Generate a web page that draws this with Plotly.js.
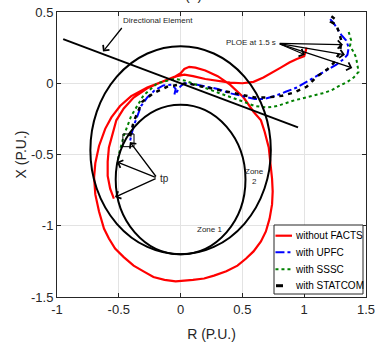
<!DOCTYPE html>
<html>
<head>
<meta charset="utf-8">
<script src="https://cdn.plot.ly/plotly-3.0.1.min.js"></script>
<style>
  html, body { margin: 0; padding: 0; background: #fff; }
  #chart { width: 376px; height: 345px; }
</style>
</head>
<body>
<div id="chart"></div>
<script>
// Apparent impedance trajectories seen by the relay (R, X in per unit)
const seriesNames = ['without FACTS', 'with UPFC', 'with SSSC', 'with STATCOM'];

const noFactsR = [1.02, 1.0, 0.94, 0.88, 0.81, 0.75, 0.67, 0.59, 0.5, 0.4,
  0.3, 0.2, 0.1, 0.03, -0.03, -0.12, -0.27, -0.4, -0.49, -0.56,
  -0.61, -0.66, -0.69, -0.7, -0.69, -0.66, -0.62, -0.58, -0.53, -0.46,
  -0.38, -0.3, -0.22, -0.13, -0.04, 0.1, 0.19, 0.27, 0.37, 0.46,
  0.53, 0.59, 0.65, 0.69, 0.72, 0.74, 0.745, 0.74, 0.713, 0.68,
  0.65, 0.59, 0.51, 0.4, 0.3, 0.2, 0.12, 0.07, 0.03, 0.0,
  -0.05, -0.15, -0.27, -0.38, -0.46, -0.52, -0.55, -0.58, -0.59, -0.59,
  -0.57, -0.54];
const noFactsX = [0.25, 0.19, 0.17, 0.145, 0.11, 0.08, 0.04, 0.01, 0.0, 0.005,
  0.015, 0.03, 0.05, 0.06, 0.05, 0.02, -0.03, -0.09, -0.16, -0.24,
  -0.32, -0.44, -0.56, -0.66, -0.78, -0.9, -1.02, -1.09, -1.16, -1.22,
  -1.28, -1.32, -1.36, -1.38, -1.39, -1.38, -1.37, -1.35, -1.32, -1.28,
  -1.23, -1.18, -1.11, -1.04, -0.95, -0.85, -0.76, -0.67, -0.45, -0.34,
  -0.26, -0.2, -0.1, -0.01, 0.05, 0.09, 0.11, 0.115, 0.1, 0.07,
  0.045, 0.01, -0.035, -0.1, -0.177, -0.26, -0.35, -0.45, -0.55, -0.65,
  -0.74, -0.81];

const upfcR = [1.21, 1.24, 1.27, 1.3, 1.34, 1.36, 1.35, 1.32, 1.26, 1.18,
  1.1, 1.02, 0.94, 0.85, 0.76, 0.68, 0.6, 0.5, 0.4, 0.3,
  0.2, 0.1, 0.03, 0.0, -0.03, -0.05, -0.04, -0.07, -0.14, -0.21,
  -0.27, -0.32, -0.35, -0.38, -0.4, -0.41];
const upfcX = [0.45, 0.42, 0.38, 0.34, 0.3, 0.25, 0.2, 0.17, 0.13, 0.09,
  0.05, 0.01, -0.03, -0.06, -0.09, -0.11, -0.11, -0.09, -0.07, -0.04,
  -0.02, -0.005, 0.0, -0.02, -0.06, -0.08, -0.04, -0.01, -0.015, -0.05,
  -0.1, -0.16, -0.23, -0.3, -0.37, -0.41];

const ssscR = [1.36, 1.38, 1.37, 1.4, 1.42, 1.43, 1.44, 1.4, 1.35, 1.28,
  1.22, 1.15, 1.08, 1.0, 0.92, 0.85, 0.78, 0.7, 0.6, 0.51,
  0.42, 0.3, 0.19, 0.1, 0.03, -0.05, -0.19, -0.3, -0.4, -0.46,
  -0.5, -0.51];
const ssscX = [0.36, 0.3, 0.26, 0.22, 0.18, 0.13, 0.08, 0.04, 0.01, -0.02,
  -0.05, -0.07, -0.085, -0.1, -0.12, -0.14, -0.16, -0.17, -0.16, -0.13,
  -0.1, -0.065, -0.03, 0.0, 0.02, 0.03, 0.0, -0.085, -0.23, -0.37,
  -0.5, -0.56];

const statcomR = [1.22, 1.25, 1.22, 1.26, 1.28, 1.3, 1.29, 1.24, 1.19, 1.1,
  1.02, 0.91, 0.82, 0.7, 0.6, 0.46, 0.32, 0.18, 0.05, -0.11,
  -0.22, -0.31, -0.38, -0.41];
const statcomX = [0.47, 0.45, 0.43, 0.41, 0.36, 0.3, 0.22, 0.144, 0.1, 0.046,
  -0.025, -0.067, -0.088, -0.1, -0.1, -0.075, -0.045, -0.02, 0.0, -0.025,
  -0.07, -0.13, -0.27, -0.38];

// Mho relay zones: centre (R, X) and radius
const zoneNames = ['Zone 1', 'Zone 2'];
const zoneCenterR = [0, 0];
const zoneCenterX = [-0.675, -0.47];
const zoneRadius = [0.525, 0.73];

// Directional element characteristic
const dirR = [-0.95, 0.95];
const dirX = [0.31, -0.31];

// Points marked on the plot
const ploeTipR = [1.006, 1.314, 1.33, 1.389];
const ploeTipX = [0.2, 0.271, 0.2, 0.107];
const tpTipR = [-0.41, -0.515, -0.531];
const tpTipX = [-0.412, -0.553, -0.799];
const tpBoxR = [-0.467, -0.377];
const tpBoxX = [-0.445, -0.356];

const xTicks = [-1, -0.5, 0, 0.5, 1, 1.5];
const yTicks = [-1.5, -1, -0.5, 0, 0.5];

const FONT = 'Liberation Sans, Arial, Helvetica, sans-serif';
const INK = '#262626';

const styles = [
  { color: '#ff0000', width: 2.2, dash: 'solid' },
  { color: '#0000ff', width: 2, dash: 'dashdot' },
  { color: '#008000', width: 2, dash: 'dot' },
  { color: '#000000', width: 2.5, dash: '4px,5px' }
];
const seriesR = [noFactsR, upfcR, ssscR, statcomR];
const seriesX = [noFactsX, upfcX, ssscX, statcomX];

const traces = seriesNames.map((name, i) => ({
  type: 'scatter', mode: 'lines', name: name,
  x: seriesR[i], y: seriesX[i],
  line: { color: styles[i].color, width: styles[i].width, dash: styles[i].dash },
  showlegend: false, hoverinfo: 'skip'
}));

traces.push({
  type: 'scatter', mode: 'lines', x: dirR, y: dirX,
  line: { color: '#000', width: 2 }, showlegend: false, hoverinfo: 'skip'
});

const shapes = zoneNames.map((z, i) => ({
  type: 'circle', xref: 'x', yref: 'y',
  x0: zoneCenterR[i] - zoneRadius[i], x1: zoneCenterR[i] + zoneRadius[i],
  y0: zoneCenterX[i] - zoneRadius[i], y1: zoneCenterX[i] + zoneRadius[i],
  line: { color: '#000', width: 2 }
}));
shapes.push({
  type: 'rect', xref: 'x', yref: 'y',
  x0: tpBoxR[0], x1: tpBoxR[1], y0: tpBoxX[0], y1: tpBoxX[1],
  line: { color: '#000', width: 1 }
});

// Legend drawn inside the axes, lower right
const legX0 = 0.7023, legX1 = 0.9903, legY0 = 0.0105, legY1 = 0.2526;
const legRows = [0.2151, 0.1568, 0.0972, 0.0396];
shapes.push({
  type: 'rect', xref: 'paper', yref: 'paper',
  x0: legX0, x1: legX1, y0: legY0, y1: legY1,
  fillcolor: '#fff', line: { color: INK, width: 1 }, layer: 'above'
});
seriesNames.forEach((n, i) => {
  const short = i === 3;
  shapes.push({
    type: 'line', xref: 'paper', yref: 'paper',
    x0: short ? 0.7087 : 0.707, x1: short ? 0.7314 : 0.7605,
    y0: legRows[i], y1: legRows[i],
    line: { color: styles[i].color, width: short ? 3 : styles[i].width,
            dash: short ? 'solid' : styles[i].dash }
  });
});

const annotations = [];
seriesNames.forEach((n, i) => {
  annotations.push({
    xref: 'paper', yref: 'paper', x: 0.763, y: legRows[i],
    xanchor: 'left', yanchor: 'middle', showarrow: false, text: n,
    font: { family: FONT, size: 10, color: '#000' }
  });
});

const arrowStyle = { showarrow: true, arrowhead: 4, arrowsize: 1.2, arrowwidth: 1.3,
  arrowcolor: '#000', text: '', xref: 'x', yref: 'y', axref: 'x', ayref: 'y', standoff: 0 };

annotations.push(Object.assign({}, arrowStyle, { x: -0.628, y: 0.222, ax: -0.466, ay: 0.398 }));
annotations.push({ xref: 'x', yref: 'y', x: -0.183, y: 0.44, showarrow: false,
  text: 'Directional Element', font: { family: FONT, size: 8, color: INK } });

ploeTipR.forEach((r, i) => {
  annotations.push(Object.assign({}, arrowStyle, { x: r, y: ploeTipX[i], ax: 0.79, ay: 0.28 }));
});
annotations.push({ xref: 'x', yref: 'y', x: 0.785, y: 0.283, xanchor: 'right', showarrow: false,
  text: 'PLOE at 1.5 s', font: { family: FONT, size: 8, color: INK } });

tpTipR.forEach((r, i) => {
  annotations.push(Object.assign({}, arrowStyle, { x: r, y: tpTipX[i], ax: -0.19, ay: -0.665 }));
});
annotations.push({ xref: 'x', yref: 'y', x: -0.185, y: -0.665, xanchor: 'left', showarrow: false,
  text: 'tp', font: { family: FONT, size: 10, color: INK } });

annotations.push({ xref: 'x', yref: 'y', x: 0.6, y: -0.651, showarrow: false,
  text: 'Zone<br>2', font: { family: FONT, size: 8, color: INK } });
annotations.push({ xref: 'x', yref: 'y', x: 0.23, y: -1.025, showarrow: false,
  text: 'Zone 1', font: { family: FONT, size: 8, color: INK } });

annotations.push({ xref: 'paper', yref: 'paper', x: 0.443, y: 1.026, yanchor: 'bottom',
  showarrow: false, text: '(a)', font: { family: FONT, size: 14, color: INK } });

const axisCommon = {
  showgrid: true, gridcolor: '#e3e3e3', gridwidth: 1, zeroline: false,
  showline: true, linecolor: INK, linewidth: 1, mirror: 'ticks',
  ticks: 'inside', ticklen: 4, tickcolor: INK,
  tickfont: { family: FONT, size: 13, color: INK }
};

const layout = {
  width: 376, height: 345,
  margin: { l: 57, r: 10, t: 12, b: 48 },
  paper_bgcolor: '#fff', plot_bgcolor: '#fff',
  showlegend: false,
  xaxis: Object.assign({}, axisCommon, {
    range: [-1, 1.5], tickvals: xTicks, ticktext: xTicks.map(String),
    title: { text: 'R (P.U.)', font: { family: FONT, size: 14, color: INK }, standoff: 13 }
  }),
  yaxis: Object.assign({}, axisCommon, {
    range: [-1.5, 0.5], tickvals: yTicks, ticktext: yTicks.map(String),
    title: { text: 'X (P.U.)', font: { family: FONT, size: 14, color: INK }, standoff: 1 }
  }),
  shapes: shapes,
  annotations: annotations
};

Plotly.newPlot('chart', traces, layout, { displayModeBar: false, staticPlot: true });
</script>
</body>
</html>
